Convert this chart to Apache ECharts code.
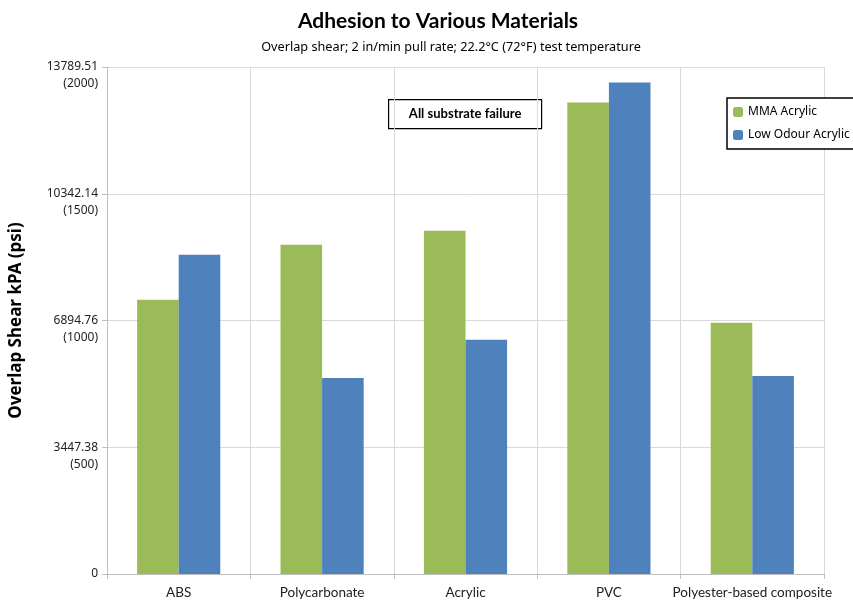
<!DOCTYPE html>
<html>
<head>
<meta charset="utf-8">
<script src="https://cdn.jsdelivr.net/npm/echarts@6/dist/echarts.min.js"></script>
<style>
  html, body { margin: 0; padding: 0; background: #fff; }
</style>
</head>
<body>
<div id="myChart" style="width: 853px; height: 603px;"></div>
<script>
var categories = ["ABS", "Polycarbonate", "Acrylic", "PVC", "Polyester-based composite"];
var mmaAcrylic = [7457, 8953, 9334, 12826, 6831];
var lowOdourAcrylic = [8681, 5334, 6368, 13370, 5388];
var yTickLabels = ["0", "3447.38\n(500)", "6894.76\n(1000)", "10342.14\n(1500)", "13789.51\n(2000)"];
var yMax = 13789.51;
var yStep = yMax / 4;

// init chart
var myChart = echarts.init(document.getElementById("myChart"));
myChart.setOption({
  animation: false,
  color: ["#9bbb59", "#4f81bd"],
  title: [
    {
      text: "Adhesion to Various Materials",
      left: 433,
      top: 6,
      textAlign: "center",
      textStyle: { fontFamily: "Lato", fontWeight: "bold", fontSize: 21, color: "#000" }
    },
    {
      text: "Overlap shear; 2 in/min pull rate; 22.2°C (72°F) test temperature",
      left: 446,
      top: 36,
      textAlign: "center",
      textStyle: { fontFamily: "Noto Sans", fontWeight: "normal", fontSize: 12.7, color: "#000" }
    }
  ],
  legend: {
    data: ["MMA Acrylic", "Low Odour Acrylic"],
    orient: "vertical",
    left: 727,
    top: 98,
    itemWidth: 10,
    itemHeight: 10,
    itemGap: 11,
    padding: [8, 6, 8, 6],
    borderColor: "#000",
    borderWidth: 1.5,
    backgroundColor: "#fff",
    textStyle: { fontFamily: "Noto Sans", fontSize: 12, color: "#000" }
  },
  grid: {
    left: 106,
    right: 29,
    top: 67,
    bottom: 29
  },
  xAxis: {
    type: "category",
    data: categories,
    axisLine: { lineStyle: { color: "#bfbfbf" } },
    axisTick: { show: true, alignWithLabel: false, length: 5, lineStyle: { color: "#bfbfbf" } },
    axisLabel: { fontFamily: "Lato", fontSize: 13.5, color: "#222", margin: 12, interval: 0 },
    splitLine: { show: true, lineStyle: { color: "#d9d9d9" } }
  },
  yAxis: {
    type: "value",
    min: 0,
    max: yMax,
    interval: yStep,
    name: "Overlap Shear kPA (psi)",
    nameLocation: "middle",
    nameGap: 82,
    nameTextStyle: { fontFamily: "Noto Sans", fontWeight: "bold", fontSize: 17, color: "#000" },
    axisLine: { show: true, lineStyle: { color: "#bfbfbf" } },
    axisTick: { show: true, length: 5, lineStyle: { color: "#bfbfbf" } },
    axisLabel: {
      fontFamily: "Noto Sans",
      fontSize: 12,
      color: "#222",
      lineHeight: 17,
      align: "right",
      margin: 9,
      formatter: function (value) {
        var s = yTickLabels[Math.round(value / yStep)];
        // blank first line keeps the kPa value on the tick
        return s.indexOf("\n") >= 0 ? " \n" + s : s;
      }
    },
    splitLine: { lineStyle: { color: "#d9d9d9" } }
  },
  graphic: [
    {
      type: "group",
      left: 388,
      top: 99,
      children: [
        {
          type: "rect",
          shape: { x: 0, y: 0, width: 153, height: 29 },
          style: { fill: "#fff", stroke: "#000", lineWidth: 1.2 }
        },
        {
          type: "text",
          x: 76.5,
          y: 14.5,
          style: {
            text: "All substrate failure",
            fontFamily: "Lato",
            fontWeight: "bold",
            fontSize: 13,
            fill: "#000",
            align: "center",
            verticalAlign: "middle"
          }
        }
      ]
    }
  ],
  series: [
    {
      name: "MMA Acrylic",
      type: "bar",
      data: mmaAcrylic,
      barGap: "0%",
      barCategoryGap: "42%"
    },
    {
      name: "Low Odour Acrylic",
      type: "bar",
      data: lowOdourAcrylic,
      barGap: "0%",
      barCategoryGap: "42%"
    }
  ]
});
</script>
</body>
</html>
